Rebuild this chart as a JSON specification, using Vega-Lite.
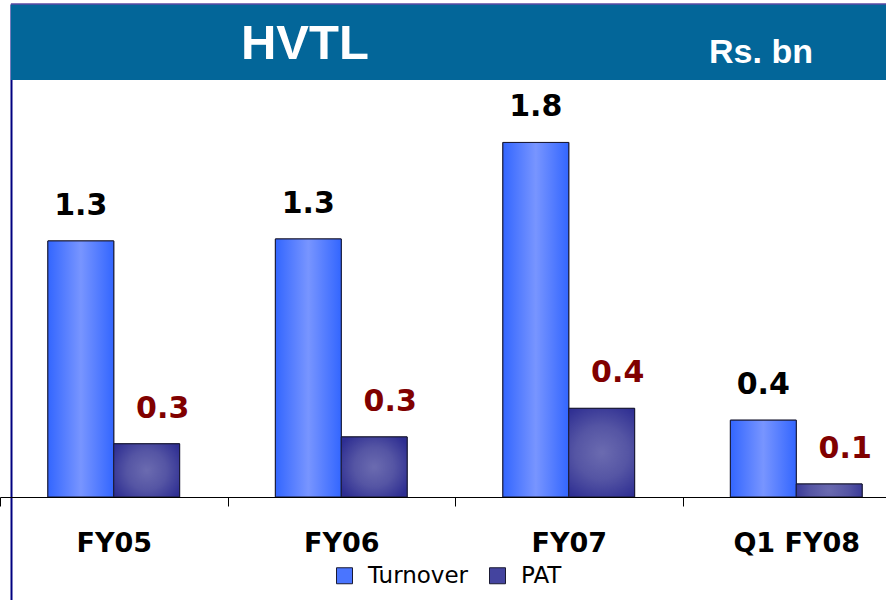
{
  "$schema": "https://vega.github.io/schema/vega-lite/v6.json",
  "width": 886,
  "height": 596,
  "autosize": "none",
  "padding": {"left": 0, "top": 4, "right": 0, "bottom": 0},
  "background": "white",
  "data": {"values": [
    {"cat": "FY05", "series": "Turnover", "value": 1.30, "label": "1.3"},
    {"cat": "FY05", "series": "PAT", "value": 0.27, "label": "0.3"},
    {"cat": "FY06", "series": "Turnover", "value": 1.31, "label": "1.3"},
    {"cat": "FY06", "series": "PAT", "value": 0.305, "label": "0.3"},
    {"cat": "FY07", "series": "Turnover", "value": 1.80, "label": "1.8"},
    {"cat": "FY07", "series": "PAT", "value": 0.45, "label": "0.4"},
    {"cat": "Q1 FY08", "series": "Turnover", "value": 0.39, "label": "0.4"},
    {"cat": "Q1 FY08", "series": "PAT", "value": 0.066, "label": "0.1"}
  ]},
  "layer": [
    {
      "data": {"values": [{"part": "banner"}]},
      "mark": {"type": "rect", "color": "#036699"},
      "encoding": {
        "x": {"datum": "FY05", "type": "nominal", "bandPosition": 0.048},
        "x2": {"datum": "Q1 FY08", "bandPosition": 1},
        "y": {"datum": 2.117, "type": "quantitative", "scale": {"domain": [-0.523, 2.503], "nice": false, "zero": false}},
        "y2": {"datum": 2.503}
      }
    },
    {
      "data": {"values": [{"part": "topline"}]},
      "mark": {"type": "rule", "color": "#5b4aa3", "strokeWidth": 1.5},
      "encoding": {
        "x": {"datum": "FY05", "type": "nominal", "bandPosition": 0.048},
        "x2": {"datum": "Q1 FY08", "bandPosition": 1},
        "y": {"datum": 2.503, "type": "quantitative"}
      }
    },
    {
      "mark": {"type": "bar", "stroke": "#1a1a33", "strokeWidth": 1},
      "encoding": {
        "x": {"field": "cat", "type": "nominal", "title": null, "sort": null,
              "scale": {"domain": ["FY05", "FY06", "FY07", "Q1 FY08"], "range": [0, 910], "paddingInner": 0, "paddingOuter": 0}},
        "xOffset": {"field": "series", "type": "nominal", "sort": null,
                    "scale": {"domain": ["Turnover", "PAT"], "paddingInner": 0, "paddingOuter": 0.727}},
        "y": {"field": "value", "type": "quantitative", "title": null},
        "y2": {"datum": 0},
        "color": {"field": "series", "type": "nominal", "sort": null, "title": null,
                  "scale": {"domain": ["Turnover", "PAT"], "range": ["#4a75ff", "#44449f"]}}
      }
    },
    {
      "transform": [{"filter": "datum.series === 'Turnover'"}],
      "mark": {"type": "bar", "stroke": "#1a1a33", "strokeWidth": 1,
               "fill": {"gradient": "linear", "x1": 0, "y1": 0, "x2": 1, "y2": 0,
                        "stops": [{"offset": 0, "color": "#3366ff"}, {"offset": 0.5, "color": "#7895ff"}, {"offset": 1, "color": "#3366ff"}]}},
      "encoding": {
        "x": {"field": "cat", "type": "nominal", "title": null, "sort": null},
        "xOffset": {"field": "series", "type": "nominal", "sort": null},
        "y": {"field": "value", "type": "quantitative", "title": null},
        "y2": {"datum": 0}
      }
    },
    {
      "transform": [{"filter": "datum.series === 'PAT'"}],
      "mark": {"type": "bar", "stroke": "#1a1a33", "strokeWidth": 1,
               "fill": {"gradient": "radial", "x1": 0.5, "y1": 0.5, "r1": 0, "x2": 0.5, "y2": 0.5, "r2": 0.6,
                        "stops": [{"offset": 0, "color": "#6b6bb0"}, {"offset": 0.5, "color": "#5555a4"}, {"offset": 1, "color": "#2e2e92"}]}},
      "encoding": {
        "x": {"field": "cat", "type": "nominal", "title": null, "sort": null},
        "xOffset": {"field": "series", "type": "nominal", "sort": null},
        "y": {"field": "value", "type": "quantitative", "title": null},
        "y2": {"datum": 0}
      }
    },
    {
      "transform": [{"filter": "datum.series === 'Turnover'"}],
      "mark": {"type": "text", "font": "DejaVu Sans", "fontWeight": "bold", "fontSize": 30, "color": "#000000", "baseline": "alphabetic", "align": "center", "dy": -26},
      "encoding": {
        "x": {"field": "cat", "type": "nominal", "title": null, "sort": null},
        "xOffset": {"field": "series", "type": "nominal", "sort": null},
        "y": {"field": "value", "type": "quantitative", "title": null},
        "text": {"field": "label"}
      }
    },
    {
      "transform": [{"filter": "datum.series === 'PAT'"}],
      "mark": {"type": "text", "font": "DejaVu Sans", "fontWeight": "bold", "fontSize": 30, "color": "#800000", "baseline": "alphabetic", "align": "center", "dy": -26, "dx": 16},
      "encoding": {
        "x": {"field": "cat", "type": "nominal", "title": null, "sort": null},
        "xOffset": {"field": "series", "type": "nominal", "sort": null},
        "y": {"field": "value", "type": "quantitative", "title": null},
        "text": {"field": "label"}
      }
    },
    {
      "data": {"values": [{"t": "HVTL"}]},
      "mark": {"type": "text", "font": "Liberation Sans", "fontWeight": "bold", "fontSize": 49, "color": "#ffffff", "baseline": "alphabetic", "align": "center"},
      "encoding": {
        "x": {"datum": "FY06", "type": "nominal", "bandPosition": 0.34},
        "y": {"datum": 2.223, "type": "quantitative"},
        "text": {"field": "t"}
      }
    },
    {
      "data": {"values": [{"t": "Rs. bn"}]},
      "mark": {"type": "text", "font": "Liberation Sans", "fontWeight": "bold", "fontSize": 34, "color": "#ffffff", "baseline": "alphabetic", "align": "center"},
      "encoding": {
        "x": {"datum": "Q1 FY08", "type": "nominal", "bandPosition": 0.345},
        "y": {"datum": 2.203, "type": "quantitative"},
        "text": {"field": "t"}
      }
    }
  ],
  "config": {
    "view": {"stroke": null},
    "axisX": {"domainColor": "#000000", "domainWidth": 1, "tickColor": "#000000", "tickSize": 9, "tickBand": "extent",
              "labelFont": "DejaVu Sans", "labelFontWeight": "bold", "labelFontSize": 27, "labelColor": "#000000",
              "labelAngle": 0, "labelPadding": 45, "labelBaseline": "alphabetic", "offset": -103, "grid": false},
    "axisY": {"offset": -11, "labels": false, "ticks": false, "grid": false, "domainColor": "#000080", "domainWidth": 2},
    "legend": {"orient": "none", "legendX": 333, "legendY": 560, "direction": "horizontal", "padding": 0,
               "symbolType": "square", "symbolSize": 256, "symbolStrokeColor": "#1a1a33", "symbolStrokeWidth": 1,
               "labelFont": "DejaVu Sans", "labelFontSize": 23, "labelColor": "#000000", "labelOffset": 12, "columnPadding": 17}
  }
}
